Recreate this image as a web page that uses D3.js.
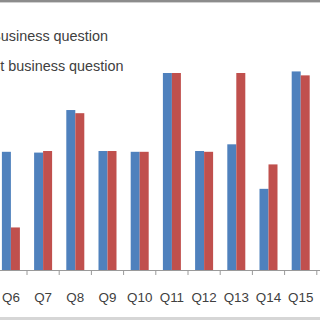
<!DOCTYPE html>
<html>
<head>
<meta charset="utf-8">
<script src="https://cdn.jsdelivr.net/npm/d3@7"></script>
<style>
  html, body { margin: 0; padding: 0; background: #fff; }
  svg { display: block; }
</style>
</head>
<body>
<svg id="chart" width="320" height="320"></svg>
<script>
const categories = ["Q6", "Q7", "Q8", "Q9", "Q10", "Q11", "Q12", "Q13", "Q14", "Q15", "Q16"];
const seriesNames = ["Business question", "Not business question"];
const blueValues = [3.0, 2.98, 4.06, 3.02, 3.0, 5.0, 3.02, 3.19, 2.06, 5.04, null];
const redValues  = [1.08, 3.02, 3.98, 3.02, 3.0, 5.0, 3.0, 5.0, 2.68, 4.94, null];
const seriesColors = ["#4F81BD", "#C0504D"];

const svg = d3.select("#chart");
const fontFamily = "'Liberation Sans', Arial, sans-serif";
const textColor = "#404040";

// frame bands
svg.append("rect").attr("x", 0).attr("y", 0).attr("width", 320).attr("height", 2).attr("fill", "#8c8c8c");
svg.append("rect").attr("x", 0).attr("y", 2).attr("width", 320).attr("height", 1).attr("fill", "#d0d0d0");
svg.append("rect").attr("x", 0).attr("y", 317).attr("width", 320).attr("height", 3).attr("fill", "#d6d6d6");

const step = 32.2;
const x0 = -5.2;
const x = d3.scaleBand().domain(categories).range([x0, x0 + step * categories.length]).padding(0);
const inner = d3.scaleBand().domain([0, 1]).range([0, 18]).padding(0);
const y = d3.scaleLinear().domain([0, 5]).range([270, 73]);
const groupOffset = (x.bandwidth() - 18) / 2;

const series = [blueValues, redValues];
series.forEach((vals, si) => {
  const data = categories.map((c, i) => ({ c, v: vals[i] })).filter(d => d.v != null);
  svg.append("g").selectAll("rect").data(data).join("rect")
    .attr("x", d => x(d.c) + groupOffset + inner(si))
    .attr("y", d => y(d.v))
    .attr("width", inner.bandwidth())
    .attr("height", d => y(0) - y(d.v))
    .attr("fill", seriesColors[si]);
});

// x axis
const axis = svg.append("g").attr("transform", "translate(0,270)")
  .call(d3.axisBottom(x).tickSize(0).tickSizeOuter(0).tickPadding(22));
axis.select(".domain").attr("stroke", "#9a9a9a");
axis.selectAll("text").attr("font-family", fontFamily).attr("font-size", 13.4).attr("fill", textColor);

// boundary ticks
const bounds = categories.map(c => x(c)).concat([x(categories[categories.length - 1]) + x.bandwidth()]);
svg.append("g").selectAll("line").data(bounds).join("line")
  .attr("x1", d => d).attr("x2", d => d)
  .attr("y1", 270).attr("y2", 275)
  .attr("stroke", "#9a9a9a");

// legend (partially cropped on the left)
const legendEnds = [108, 123.5];
const legendBaselines = [41, 71];
seriesNames.forEach((name, i) => {
  svg.append("rect")
    .attr("x", legendEnds[i] - 140).attr("y", legendBaselines[i] - 9)
    .attr("width", 8).attr("height", 8).attr("fill", seriesColors[i]);
  svg.append("text")
    .attr("x", legendEnds[i]).attr("y", legendBaselines[i])
    .attr("text-anchor", "end")
    .attr("font-family", fontFamily).attr("font-size", 14.4)
    .attr("fill", textColor)
    .text(name);
});
</script>
</body>
</html>
